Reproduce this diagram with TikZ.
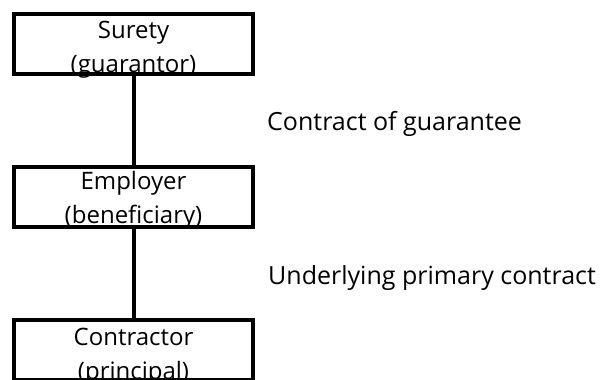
\documentclass[tikz,border=0pt]{standalone}
\usepackage{fontspec}
\setmainfont{Open Sans}
\begin{document}
\begin{tikzpicture}[x=1pt,y=-1pt,
  party/.style={draw=black, line width=4pt, inner sep=0pt, outer sep=0pt,
    minimum width=239pt, minimum height=60pt},
  tie/.style={draw=black, line width=4pt},
  boxtext/.style={anchor=base, inner sep=0pt, font=\fontsize{24}{34}\selectfont},
  sidetext/.style={anchor=base west, inner sep=0pt, font=\fontsize{25}{30}\selectfont}]
  \useasboundingbox (0,0) rectangle (606,380);
  \clip (0,0) rectangle (606,380);

  % the three parties
  \node[party] (surety)     at (133.5,43.5) {};
  \node[party] (employer)   at (133.5,197)  {};
  \node[party] (contractor) at (133.5,350)  {};

  % links between the parties
  \draw[tie] (surety.south) -- (employer.north);
  \draw[tie] (employer.south) -- (contractor.north);

  % party names
  \node[boxtext] (suretyA)     at (133.5,38)  {Surety};
  \node[boxtext] (suretyB)     at (133.5,72)  {(guarantor)};
  \node[boxtext] (employerA)   at (133.5,189) {Employer};
  \node[boxtext] (employerB)   at (133.5,223) {(beneficiary)};
  \node[boxtext] (contractorA) at (133.5,345) {Contractor};
  \node[boxtext] (contractorB) at (133.5,379) {(principal)};

  % contract descriptions
  \node[sidetext] (guarantee) at (267,130) {Contract of guarantee};
  \node[sidetext] (primary)   at (268,284) {Underlying primary contract};
\end{tikzpicture}
\end{document}
